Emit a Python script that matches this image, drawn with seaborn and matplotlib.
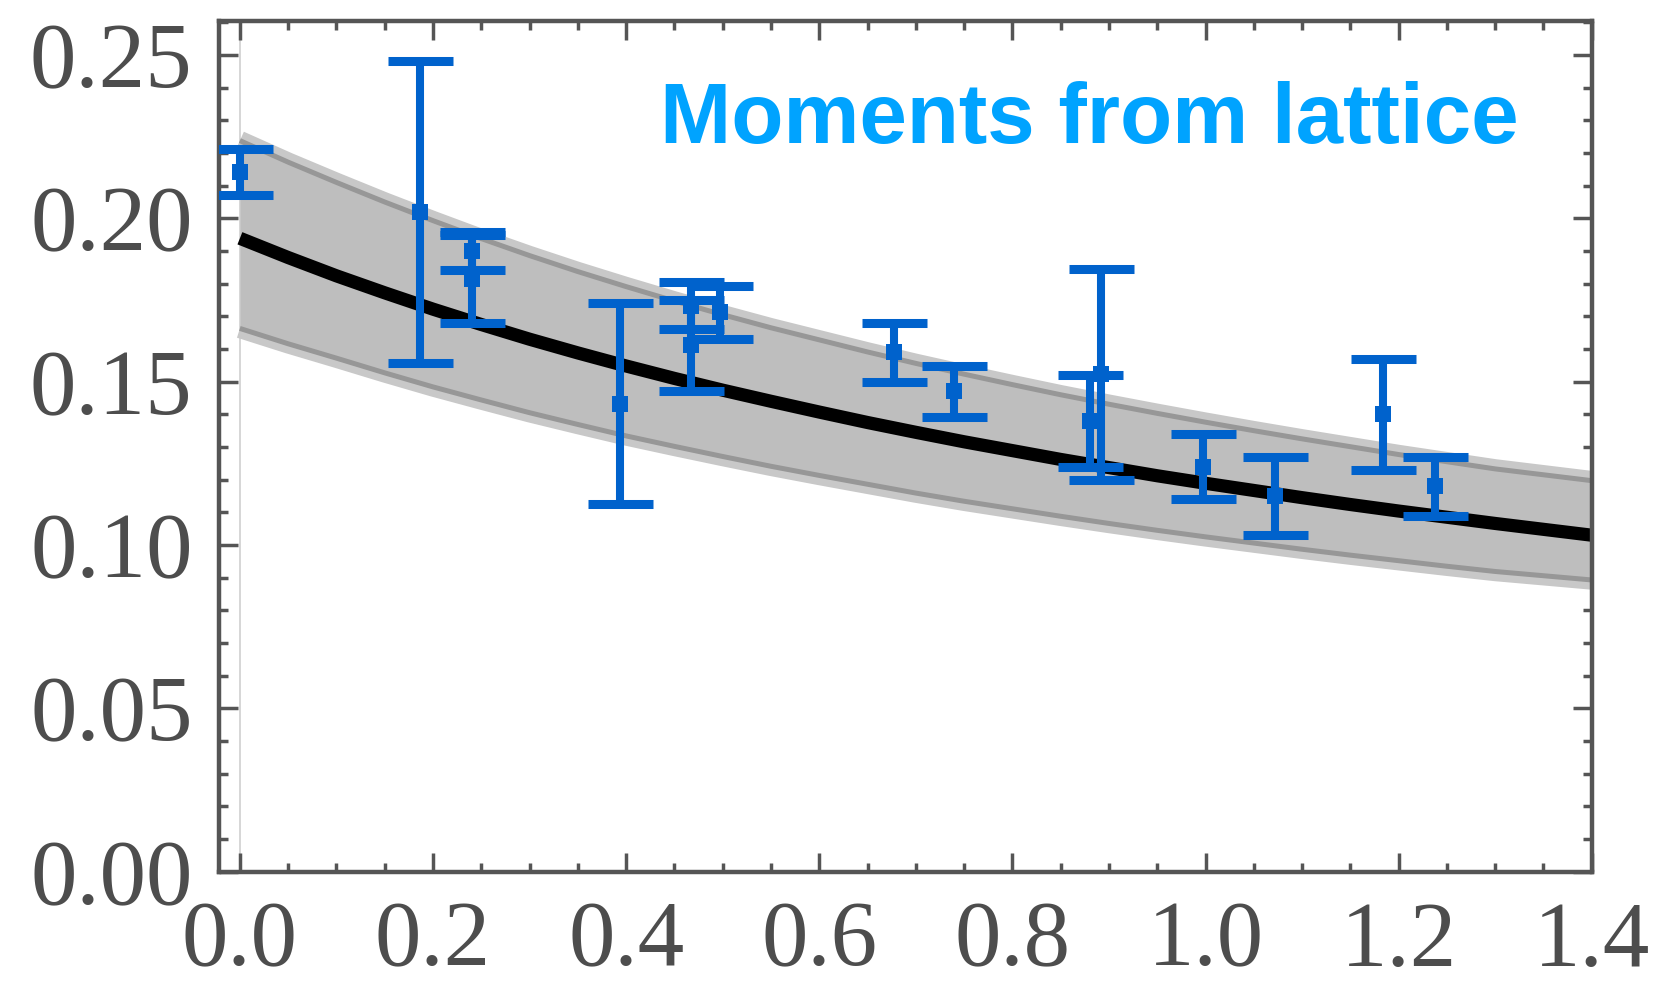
import matplotlib
matplotlib.use("Agg")
import matplotlib.pyplot as plt
from matplotlib.ticker import MultipleLocator, FormatStrFormatter
import numpy as np
import pandas as pd
import seaborn as sns

# ---------------- data ----------------
curve_x = [0.00, 0.05, 0.10, 0.15, 0.20, 0.25, 0.30, 0.35, 0.40, 0.45,
           0.50, 0.55, 0.60, 0.65, 0.70, 0.75, 0.80, 0.85, 0.90, 0.95,
           1.00, 1.05, 1.10, 1.15, 1.20, 1.25, 1.30, 1.35, 1.40]
curve_central = [0.1939, 0.1880, 0.1824, 0.1772, 0.1722, 0.1675, 0.1630, 0.1588,
                 0.1548, 0.1510, 0.1474, 0.1440, 0.1407, 0.1375, 0.1345, 0.1316,
                 0.1289, 0.1262, 0.1237, 0.1212, 0.1189, 0.1167, 0.1145, 0.1124,
                 0.1104, 0.1085, 0.1066, 0.1048, 0.1030]
curve_upper = [0.2238, 0.2172, 0.2110, 0.2050, 0.1993, 0.1938, 0.1886, 0.1837,
               0.1791, 0.1747, 0.1705, 0.1665, 0.1628, 0.1591, 0.1556, 0.1523,
               0.1491, 0.1460, 0.1431, 0.1403, 0.1376, 0.1350, 0.1325, 0.1301,
               0.1277, 0.1255, 0.1233, 0.1215, 0.1197]
curve_lower = [0.1663, 0.1616, 0.1572, 0.1527, 0.1484, 0.1444, 0.1405, 0.1369,
               0.1334, 0.1302, 0.1271, 0.1241, 0.1213, 0.1186, 0.1159, 0.1134,
               0.1111, 0.1088, 0.1066, 0.1045, 0.1025, 0.1006, 0.0987, 0.0969,
               0.0952, 0.0935, 0.0919, 0.0906, 0.0893]

pt_x = [0.000, 0.187, 0.240, 0.240, 0.394, 0.467, 0.467, 0.497,
        0.677, 0.740, 0.880, 0.892, 0.997, 1.072, 1.184, 1.238]
pt_y = [0.2142, 0.2020, 0.1900, 0.1814, 0.1433, 0.1611, 0.1733, 0.1712,
        0.1590, 0.1470, 0.1380, 0.1522, 0.1240, 0.1150, 0.1400, 0.1180]
pt_err = [0.0070, 0.0462, 0.0059, 0.0135, 0.0308, 0.0138, 0.0071, 0.0081,
          0.0090, 0.0079, 0.0140, 0.0323, 0.0100, 0.0120, 0.0169, 0.0090]

x_ticks = [0.0, 0.2, 0.4, 0.6, 0.8, 1.0, 1.2, 1.4]
y_ticks = [0.00, 0.05, 0.10, 0.15, 0.20, 0.25]
label_text = "Moments from lattice"

# ---------------- styling ----------------
sns.set_theme(style="ticks")
plt.rcParams["font.family"] = ["Liberation Serif", "DejaVu Serif"]

fig = plt.figure(figsize=(16.6, 9.91), dpi=100)
ax = fig.add_axes([0.1319, 0.1204, 0.8270, 0.8587])

curve_df = pd.DataFrame({"x": curve_x, "central": curve_central,
                         "upper": curve_upper, "lower": curve_lower})
pts_df = pd.DataFrame({"x": pt_x, "y": pt_y, "err": pt_err})

# thin vertical axis line at x = 0
ax.axvline(0.0, color="#cfcfcf", lw=1.2, zorder=0.5)

# band: light fringe, fill, darker edge lines
for col in ("upper", "lower"):
    ax.plot(curve_df["x"], curve_df[col], color="#c8c8c8", lw=14,
            solid_capstyle="butt", solid_joinstyle="round", zorder=1.0)
ax.fill_between(curve_df["x"], curve_df["lower"], curve_df["upper"],
                color="#bebebe", lw=0, zorder=1.2)
for col in ("upper", "lower"):
    ax.plot(curve_df["x"], curve_df[col], color="#979797", lw=3.6,
            solid_capstyle="butt", solid_joinstyle="round", zorder=1.5)

# central curve
sns.lineplot(data=curve_df, x="x", y="central", color="black", lw=9.5,
             ax=ax, zorder=2, sort=False, solid_joinstyle="round",
             solid_capstyle="butt")

# lattice points with error bars
ax.errorbar(pts_df["x"], pts_df["y"], yerr=pts_df["err"], fmt="none",
            ecolor="#0062cc", elinewidth=5.8, capsize=23.4, capthick=6.5,
            zorder=3)
sns.scatterplot(data=pts_df, x="x", y="y", marker="s", s=135, color="#0062cc",
                linewidth=0, ax=ax, zorder=3.5, legend=False)

ax.text(0.435, 0.2230, label_text, color="#00a3ff", fontsize=61.5,
        fontweight="bold", family=["Liberation Sans", "DejaVu Sans"],
        ha="left", va="baseline", zorder=4)

# axes
ax.set_xlim(-0.0217, 1.4)
ax.set_ylim(0.0, 0.2605)
ax.set_xticks(x_ticks)
ax.set_yticks(y_ticks)
ax.xaxis.set_minor_locator(MultipleLocator(0.05))
ax.yaxis.set_minor_locator(MultipleLocator(0.01))
ax.xaxis.set_major_formatter(FormatStrFormatter("%.1f"))
ax.yaxis.set_major_formatter(FormatStrFormatter("%.2f"))
ax.set_xlabel("")
ax.set_ylabel("")

for sp in ax.spines.values():
    sp.set_visible(True)
    sp.set_color("#555555")
    sp.set_linewidth(3.2)

ax.tick_params(which="both", direction="in", top=True, right=True,
               color="#555555", width=2.5)
ax.tick_params(which="major", length=14)
ax.tick_params(which="minor", length=6.5)
ax.tick_params(axis="both", which="major", labelsize=67, labelcolor="#4d4d4d")
ax.tick_params(axis="x", which="major", pad=21)
ax.tick_params(axis="y", which="major", pad=19)
ax.set_facecolor("white")
fig.patch.set_facecolor("white")

fig.savefig("out.png", dpi=100)
